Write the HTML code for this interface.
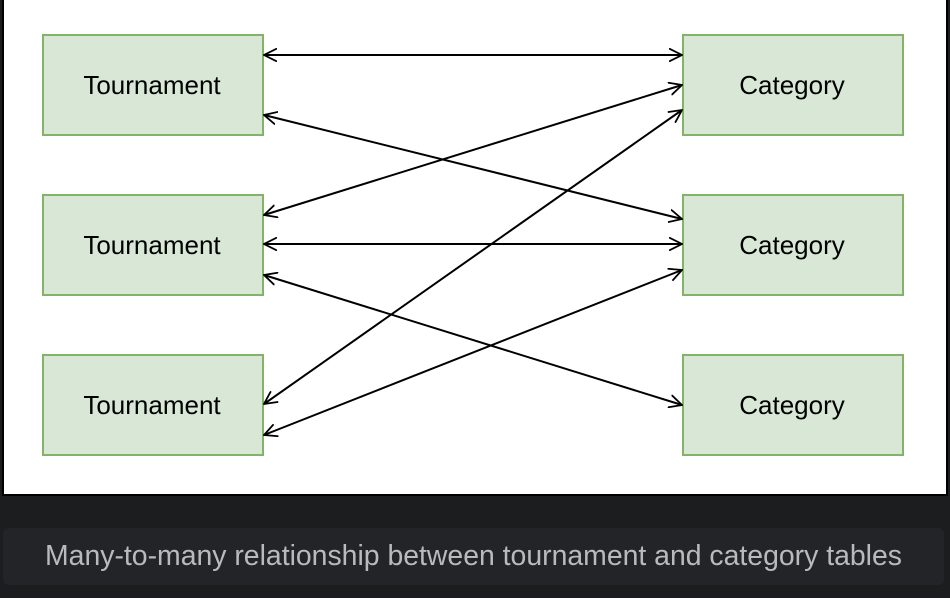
<!DOCTYPE html>
<html><head><meta charset="utf-8"><style>
html,body{margin:0;padding:0;background:#1c1d1f;width:950px;height:598px;overflow:hidden;font-family:"Liberation Sans",Arial,sans-serif}
.panel{position:absolute;left:2px;top:-2px;width:942px;height:494px;background:#fff;border:2px solid #000}
.cap{position:absolute;left:3px;top:528px;width:941px;height:57px;background:#232427;border-radius:6px;color:#b9babd;font-size:28.4px;text-align:center;line-height:57px}
svg{position:absolute;left:0;top:0}
</style></head><body>
<div class="panel"></div>
<svg width="950" height="598">
<defs>
<marker id="a" viewBox="0 0 14 14" refX="13" refY="7" markerWidth="14" markerHeight="14" orient="auto-start-reverse" markerUnits="userSpaceOnUse">
<path d="M0,0.5 L13,7 L0,13.5" fill="none" stroke="#000" stroke-width="1.8"/>
</marker>
</defs>
<g fill="#d9e8d6" stroke="#82b366" stroke-width="2">
<rect x="43" y="35" width="220" height="100"/>
<rect x="43" y="195" width="220" height="100"/>
<rect x="43" y="355" width="220" height="100"/>
<rect x="683" y="35" width="220" height="100"/>
<rect x="683" y="195" width="220" height="100"/>
<rect x="683" y="355" width="220" height="100"/>
</g>
<g stroke="#000" stroke-width="2" marker-start="url(#a)" marker-end="url(#a)">
<line x1="264" y1="55" x2="682" y2="55"/>
<line x1="264" y1="115" x2="682" y2="219"/>
<line x1="264" y1="215" x2="682" y2="85"/>
<line x1="264" y1="244" x2="682" y2="244"/>
<line x1="264" y1="275" x2="682" y2="405"/>
<line x1="264" y1="404" x2="682" y2="110"/>
<line x1="264" y1="435" x2="682" y2="270"/>
</g>
<g font-family="Liberation Sans, Arial, sans-serif" font-size="26" fill="#000" text-anchor="middle">
<text x="152" y="94">Tournament</text>
<text x="152" y="254">Tournament</text>
<text x="152" y="414">Tournament</text>
<text x="792" y="94">Category</text>
<text x="792" y="254">Category</text>
<text x="792" y="414">Category</text>
</g>
</svg>
<div class="cap">Many-to-many relationship between tournament and category tables</div>
</body></html>
